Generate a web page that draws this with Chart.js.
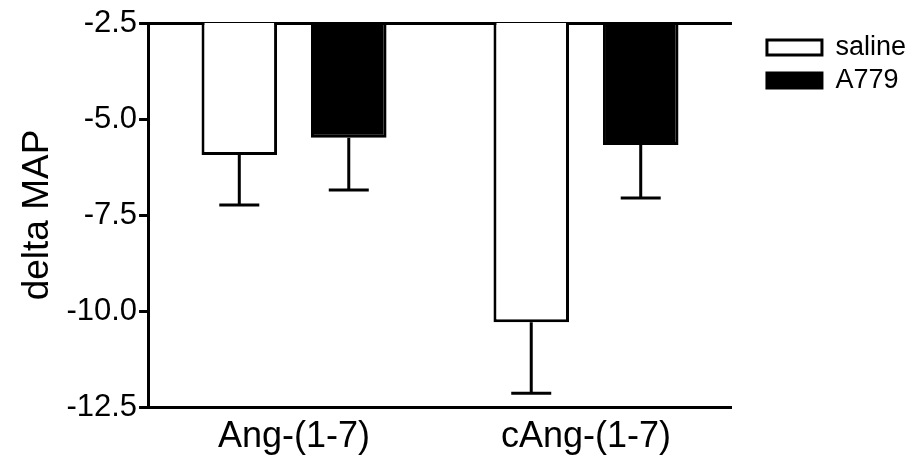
<!DOCTYPE html>
<html>
<head>
<meta charset="utf-8">
<script src="https://cdn.jsdelivr.net/npm/chart.js@4"></script>
<style>
    html, body { margin: 0; padding: 0; background: #fff; }
    #wrap { width: 917px; height: 467px; }
</style>
</head>
<body>
<div id="wrap"><canvas id="chart" width="917" height="467"></canvas></div>
<script>
// data
var categories = ["Ang-(1-7)", "cAng-(1-7)"];
var salineValues = [-5.94, -10.29];
var salineErrors = [1.3, 1.85];
var a779Values = [-5.49, -5.68];
var a779Errors = [1.36, 1.38];
var yTicks = [-2.5, -5.0, -7.5, -10.0, -12.5];

var fontFamily = "'Liberation Sans', Arial, sans-serif";

// error bars hanging below each bar
var errorBarPlugin = {
    id: "errorBars",
    afterDatasetsDraw: function (chart) {
        var ctx = chart.ctx;
        var yScale = chart.scales.y;
        ctx.save();
        ctx.strokeStyle = "#000";
        ctx.lineWidth = 3;
        chart.data.datasets.forEach(function (ds, i) {
            var meta = chart.getDatasetMeta(i);
            meta.data.forEach(function (bar, j) {
                var v = ds.data[j];
                var e = ds.errors[j];
                var x = bar.x;
                var y0 = yScale.getPixelForValue(v);
                var y1 = yScale.getPixelForValue(v - e);
                ctx.beginPath();
                ctx.moveTo(x, y0);
                ctx.lineTo(x, y1);
                ctx.moveTo(x - 20, y1);
                ctx.lineTo(x + 20, y1);
                ctx.stroke();
            });
        });
        ctx.restore();
    }
};

// leave a gap between plot and legend, and push the legend down a bit
var legendGap = 29;
var legendShiftX = 29;
var legendShiftY = 5;
var legendSpacePlugin = {
    id: "legendSpace",
    afterInit: function (chart) {
        var lg = chart.legend;
        if (!lg) return;
        var fit = lg.fit;
        lg.fit = function () {
            fit.call(this);
            this.width += legendGap;
        };
        var draw = lg.draw;
        lg.draw = function () {
            this.left += legendShiftX;
            this.top += legendShiftY;
            draw.call(this);
            this.left -= legendShiftX;
            this.top -= legendShiftY;
        };
    }
};

var ctx = document.getElementById("chart").getContext("2d");
var chart = new Chart(ctx, {
    type: "bar",
    data: {
        labels: categories,
        datasets: [{
            label: "saline",
            data: salineValues,
            errors: salineErrors,
            backgroundColor: "#fff",
            borderColor: "#000",
            borderWidth: 3
        }, {
            label: "A779",
            data: a779Values,
            errors: a779Errors,
            backgroundColor: "#000",
            borderColor: "#000",
            borderWidth: 3
        }]
    },
    options: {
        responsive: false,
        animation: false,
        devicePixelRatio: 1,
        categoryPercentage: 0.75,
        barPercentage: 0.69,
        layout: { padding: { top: 23, right: 1, left: 16, bottom: 0 } },
        plugins: {
            tooltip: { enabled: false },
            legend: {
                position: "right",
                align: "start",
                labels: {
                    color: "#000",
                    boxWidth: 55,
                    boxHeight: 15,
                    padding: 6,
                    font: { family: fontFamily, size: 27 }
                }
            }
        },
        scales: {
            x: {
                grid: { display: false, drawTicks: false },
                border: { display: true, color: "#000", width: 3 },
                ticks: {
                    color: "#000",
                    padding: 12,
                    font: { family: fontFamily, size: 36, lineHeight: 1 }
                }
            },
            y: {
                min: -12.5,
                max: -2.5,
                afterBuildTicks: function (axis) {
                    axis.ticks = yTicks.map(function (v) { return { value: v }; });
                },
                border: { display: true, color: "#000", width: 3 },
                grid: {
                    drawOnChartArea: true,
                    color: function (c) {
                        return (c.tick && (c.tick.value === -2.5 || c.tick.value === -12.5)) ? "#000" : "rgba(0,0,0,0)";
                    },
                    lineWidth: 3,
                    tickColor: "#000",
                    tickLength: 9
                },
                ticks: {
                    color: "#000",
                    padding: 2,
                    font: { family: fontFamily, size: 31 },
                    callback: function (v) { return Number(v).toFixed(1); }
                },
                title: {
                    display: true,
                    text: "delta MAP",
                    color: "#000",
                    padding: { top: 0, bottom: 4 },
                    font: { family: fontFamily, size: 37 }
                }
            }
        }
    },
    plugins: [errorBarPlugin, legendSpacePlugin]
});
</script>
</body>
</html>
